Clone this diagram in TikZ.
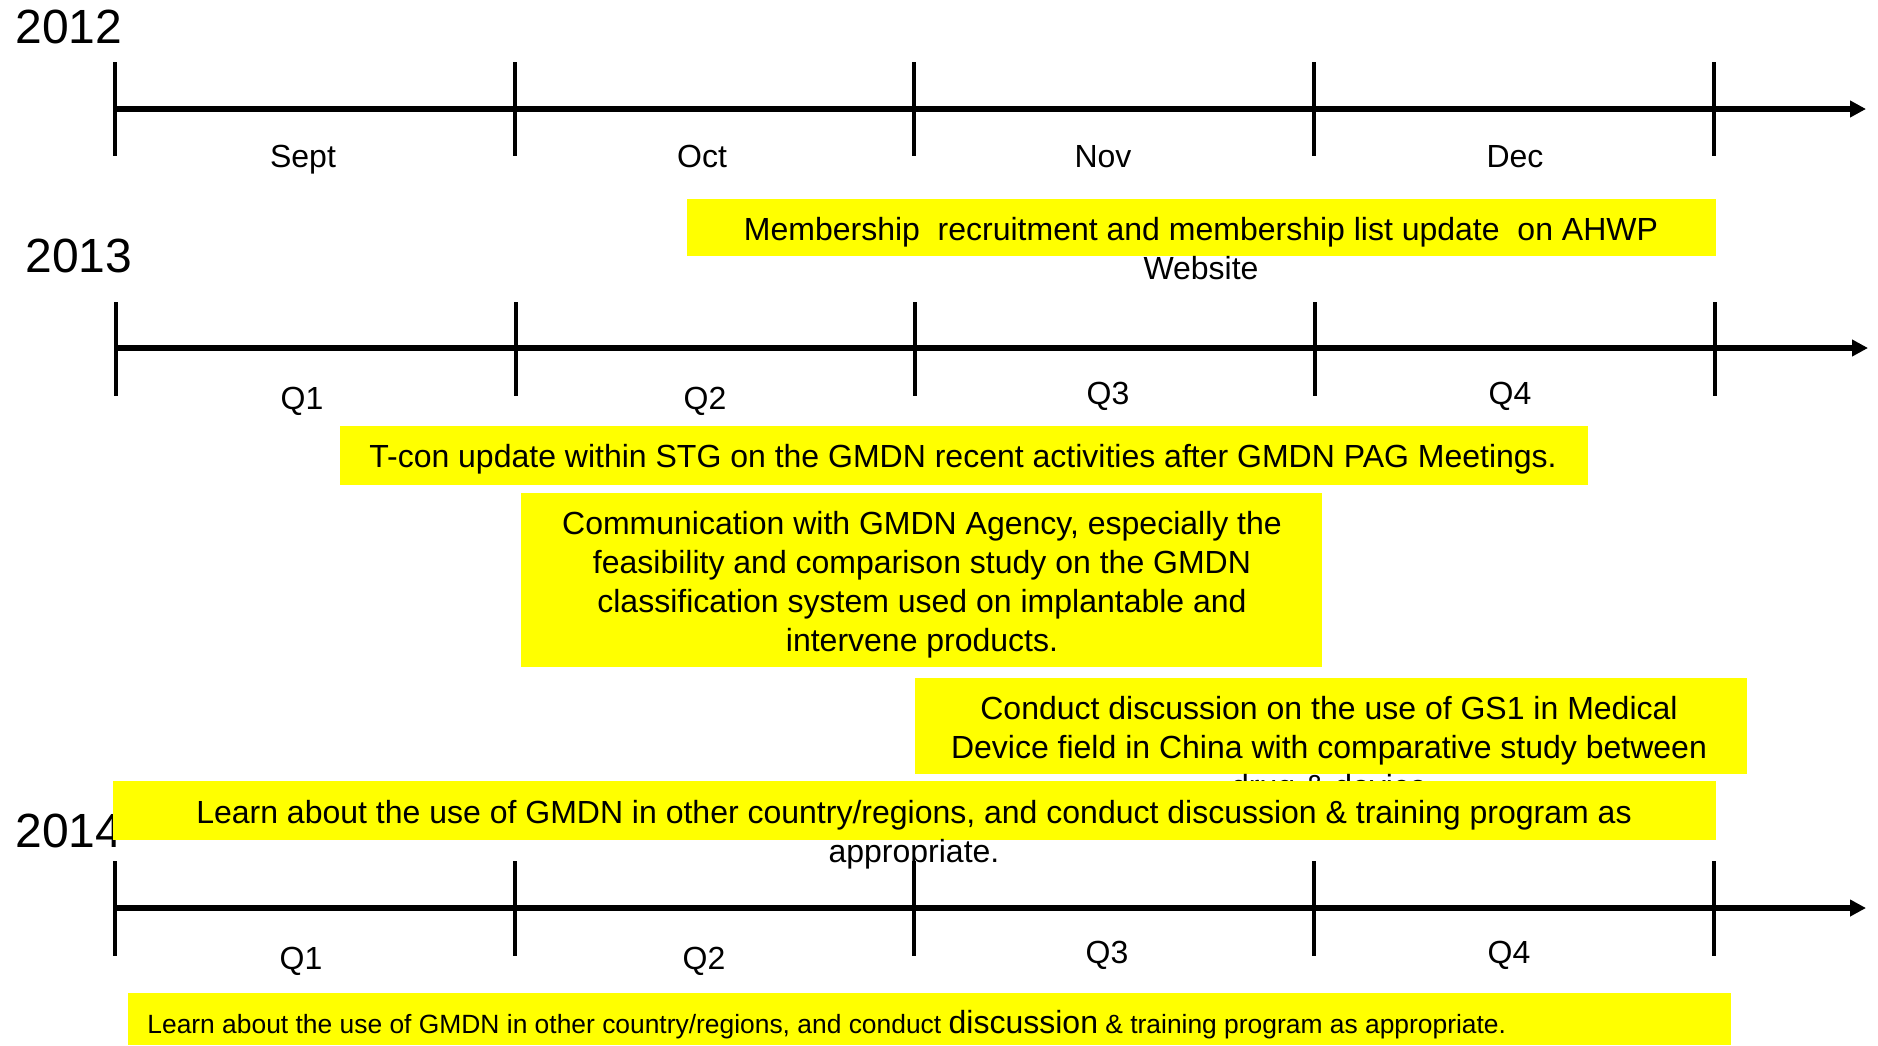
\documentclass[tikz,border=0pt]{standalone}
\usepackage{fontspec}
\setsansfont{Liberation Sans}
\usetikzlibrary{arrows.meta,calc,positioning}
\definecolor{note_yellow}{RGB}{255,255,0}

\begin{document}
\begin{tikzpicture}[x=0.5pt,y=-0.5pt,>={Triangle[length=8pt,width=8pt]},font=\sffamily,
        year/.style={anchor=base,inner sep=0pt,font=\sffamily\fontsize{24}{29}\selectfont},
        period/.style={anchor=base,inner sep=0pt,font=\sffamily\fontsize{16}{19.5}\selectfont},
        axis/.style={line width=3pt,->},
        tick/.style={line width=1.75pt},
        note_text/.style={align=center,anchor=base,inner sep=0pt,font=\sffamily\fontsize{16}{19.5}\selectfont}]

        \useasboundingbox (0,0) rectangle (1878,1045);

        % 2012
        \node[year] (year_2012) at (69,43) {2012};
        \coordinate (axis_2012_start) at (114,109);
        \coordinate (axis_2012_end) at (1866,109);
        \draw[axis] (axis_2012_start) -- (axis_2012_end);
        \draw[tick] (115,62) -- (115,156);
        \draw[tick] (515,62) -- (515,156);
        \draw[tick] (914,62) -- (914,156);
        \draw[tick] (1314,62) -- (1314,156);
        \draw[tick] (1714,62) -- (1714,156);
        \node[period] (sept) at (303,167) {Sept};
        \node[period] (oct) at (702,167) {Oct};
        \node[period] (nov) at (1103,167) {Nov};
        \node[period] (dec) at (1515,167) {Dec};

        \fill[note_yellow] (687,199) rectangle (1716,256);
        \node[note_text] (membership) at (1201,279) {Membership\ \ recruitment and membership list update\ \ on AHWP\\ Website};

        % 2013
        \node[year] (year_2013) at (79,272) {2013};
        \coordinate (axis_2013_start) at (116,348);
        \coordinate (axis_2013_end) at (1868,348);
        \draw[axis] (axis_2013_start) -- (axis_2013_end);
        \draw[tick] (116,302) -- (116,396);
        \draw[tick] (516,302) -- (516,396);
        \draw[tick] (915,302) -- (915,396);
        \draw[tick] (1315,302) -- (1315,396);
        \draw[tick] (1715,302) -- (1715,396);
        \node[period] (q1_2013) at (302,409) {Q1};
        \node[period] (q2_2013) at (705,409) {Q2};
        \node[period] (q3_2013) at (1108,404) {Q3};
        \node[period] (q4_2013) at (1510,404) {Q4};

        \fill[note_yellow] (340,426) rectangle (1588,485);
        \node[note_text] (tcon) at (963,467) {T-con update within STG on the GMDN recent activities after GMDN PAG Meetings.};

        \fill[note_yellow] (521,493) rectangle (1322,667);
        \node[note_text] (agency) at (922,651) {Communication with GMDN Agency, especially the\\ feasibility and comparison study on the GMDN\\ classification system used on implantable and\\ intervene products.};

        \fill[note_yellow] (915,678) rectangle (1747,774);
        \node[note_text] (gs1) at (1329,797) {Conduct discussion on the use of GS1 in Medical\\ Device field in China with comparative study between\\ drug \& device};

        % 2014
        \node[year] (year_2014) at (69,847) {2014};

        \fill[note_yellow] (113,781) rectangle (1716,840);
        \node[note_text] (learn) at (914,862) {Learn about the use of GMDN in other country/regions, and conduct discussion \& training program as\\ appropriate.};

        \coordinate (axis_2014_start) at (114,908);
        \coordinate (axis_2014_end) at (1866,908);
        \draw[axis] (axis_2014_start) -- (axis_2014_end);
        \draw[tick] (115,861) -- (115,956);
        \draw[tick] (515,861) -- (515,956);
        \draw[tick] (914,861) -- (914,956);
        \draw[tick] (1314,861) -- (1314,956);
        \draw[tick] (1714,861) -- (1714,956);
        \node[period] (q1_2014) at (301,969) {Q1};
        \node[period] (q2_2014) at (704,969) {Q2};
        \node[period] (q3_2014) at (1107,963) {Q3};
        \node[period] (q4_2014) at (1509,963) {Q4};

        \fill[note_yellow] (128,993) rectangle (1731,1045);
        \node[anchor=base west,inner sep=0pt,font=\sffamily\fontsize{13.2}{16}\selectfont] (learn_short) at (147,1033) {Learn about the use of GMDN in other country/regions, and conduct {\fontsize{16}{19}\selectfont discussion} \& training program as appropriate.};
\end{tikzpicture}
\end{document}
